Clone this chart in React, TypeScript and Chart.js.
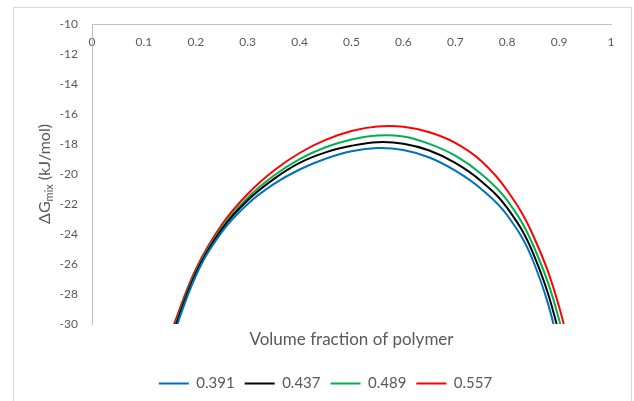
import { useEffect, useRef } from "react";
import { Chart, registerables } from "chart.js";

Chart.register(...registerables);

// Volume fraction of polymer (x) sample points
const phi = [0.15, 0.2, 0.25, 0.3, 0.35, 0.4, 0.45, 0.5, 0.55, 0.6, 0.65, 0.7, 0.75, 0.8, 0.85, 0.9, 0.95];

// ΔGmix (kJ/mol) for each series
const series391 = [-31.45, -26.8, -23.88, -22.0, -20.68, -19.7, -18.98, -18.48, -18.27, -18.4, -18.9, -19.78, -21.0, -22.75, -25.8, -31.5, -40.0];
const series437 = [-31.18, -26.63, -23.69, -21.75, -20.34, -19.26, -18.56, -18.12, -17.88, -17.98, -18.43, -19.26, -20.48, -22.26, -25.29, -30.65, -39.0];
const series489 = [-31.02, -26.52, -23.57, -21.58, -20.12, -19.01, -18.22, -17.7, -17.43, -17.5, -17.99, -18.78, -20.0, -21.76, -24.75, -29.72, -37.6];
const series557 = [-30.75, -26.35, -23.38, -21.33, -19.78, -18.6, -17.73, -17.13, -16.83, -16.85, -17.22, -17.93, -19.14, -21.1, -24.1, -28.85, -36.3];

const seriesLabels = ["0.391", "0.437", "0.489", "0.557"];
const seriesColors = ["#0070C0", "#000000", "#00B050", "#FF0000"];

const xTickLabels = ["0", "0.1", "0.2", "0.3", "0.4", "0.5", "0.6", "0.7", "0.8", "0.9", "1"];
const yTickLabels = ["-30", "-28", "-26", "-24", "-22", "-20", "-18", "-16", "-14", "-12", "-10"];

const FONT = 'Lato, "Noto Sans", sans-serif';
const TEXT = "#595959";

const yTitlePlugin = {
  id: "yTitleSub",
  afterDraw(chart: any) {
    const { ctx, chartArea } = chart;
    const cy = (chartArea.top + chartArea.bottom) / 2;
    ctx.save();
    ctx.translate(45, cy);
    ctx.rotate(-Math.PI / 2);
    ctx.fillStyle = TEXT;
    ctx.textBaseline = "middle";
    ctx.textAlign = "left";
    const big = `16px ${FONT}`;
    const small = `11px ${FONT}`;
    ctx.font = big;
    const w1 = ctx.measureText("ΔG").width;
    const w3 = ctx.measureText(" (kJ/mol)").width;
    ctx.font = small;
    const w2 = ctx.measureText("mix").width;
    let x = -(w1 + w2 + w3) / 2;
    ctx.font = big;
    ctx.fillText("ΔG", x, 0);
    x += w1;
    ctx.font = small;
    ctx.fillText("mix", x, 4);
    x += w2;
    ctx.font = big;
    ctx.fillText(" (kJ/mol)", x, 0);
    ctx.restore();
  },
};

export default function App() {
  const canvasRef = useRef<HTMLCanvasElement | null>(null);

  useEffect(() => {
    if (!canvasRef.current) return;
    const allSeries = [series391, series437, series489, series557];
    const chart = new Chart(canvasRef.current, {
      type: "line",
      data: {
        datasets: allSeries.map((s, k) => ({
          label: seriesLabels[k],
          data: phi.map((x, i) => ({ x, y: s[i] })),
          borderColor: seriesColors[k],
          backgroundColor: seriesColors[k],
          borderWidth: 2,
          pointRadius: 0,
          tension: 0.4,
          fill: false,
          xAxisID: "x",
          yAxisID: "y",
        })),
      },
      options: {
        animation: false,
        responsive: false,
        maintainAspectRatio: false,
        layout: { padding: { left: 40, right: 23, top: 24, bottom: 0 } },
        plugins: {
          legend: {
            position: "bottom",
            labels: {
              usePointStyle: true,
              pointStyle: "line",
              pointStyleWidth: 30,
              padding: 10,
              color: TEXT,
              font: { family: FONT, size: 15 },
            },
          },
          tooltip: { enabled: false },
        },
        scales: {
          x: {
            type: "linear",
            position: { y: -10 } as any,
            min: 0,
            max: 1,
            grid: { display: false, drawTicks: false },
            border: { display: true, color: "#BFBFBF", width: 1 },
            ticks: {
              stepSize: 0.1,
              autoSkip: false,
              maxRotation: 0,
              padding: 11,
              color: TEXT,
              font: { family: FONT, size: 12 },
              callback: (_v: any, i: number) => xTickLabels[i],
            },
          },
          x2: {
            type: "linear",
            position: "bottom",
            min: 0,
            max: 1,
            grid: { display: false, drawTicks: false },
            border: { display: false },
            ticks: { display: false },
            title: {
              display: true,
              text: "Volume fraction of polymer",
              color: TEXT,
              font: { family: FONT, size: 17 },
              padding: { top: 5, bottom: 16.6 },
            },
          },
          y: {
            type: "linear",
            position: "left",
            min: -30,
            max: -10,
            grid: { display: false, drawTicks: false },
            border: { display: true, color: "#BFBFBF", width: 1 },
            ticks: {
              stepSize: 2,
              padding: 14,
              color: TEXT,
              font: { family: FONT, size: 12 },
              callback: (_v: any, i: number) => yTickLabels[i],
            },
            afterFit: (scale: any) => {
              scale.width = 52;
            },
          },
        },
      },
      plugins: [yTitlePlugin],
    });
    return () => chart.destroy();
  }, []);

  return (
    <div style={{ position: "fixed", left: 0, top: 0, width: 634, height: 401, background: "#fff", overflow: "hidden" }}>
      <div
        style={{
          position: "absolute",
          left: 13,
          top: 7,
          width: 617,
          height: 420,
          border: "1px solid #d9d9d9",
          boxSizing: "content-box",
        }}
      />
      <canvas ref={canvasRef} width={634} height={401} style={{ position: "absolute", left: 0, top: 0, width: 634, height: 401 }} />
    </div>
  );
}
